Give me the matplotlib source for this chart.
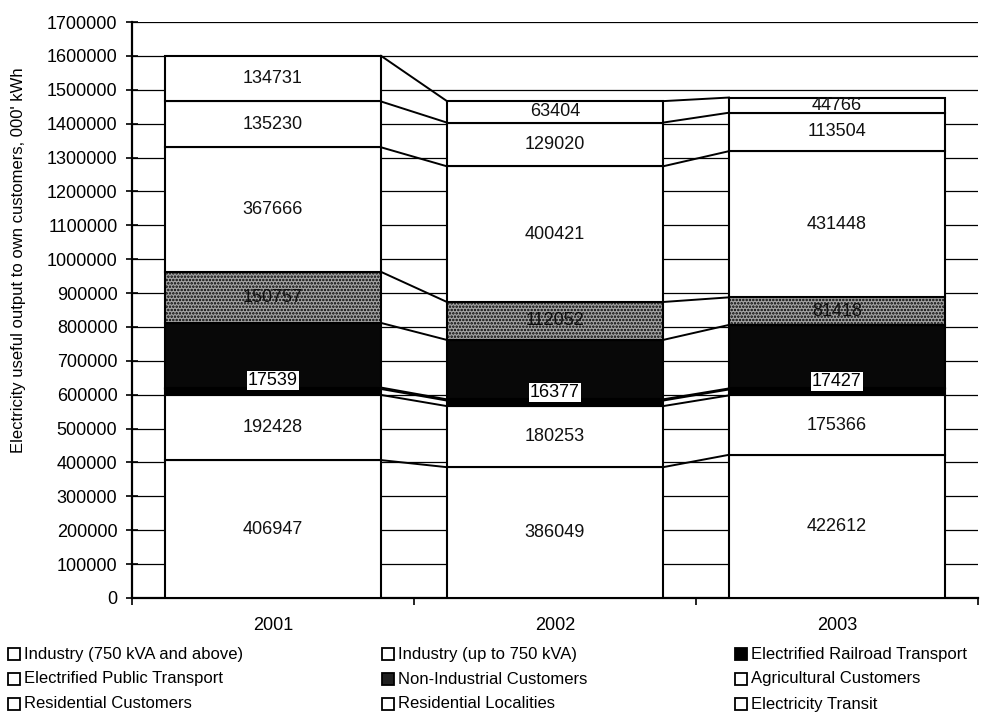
import numpy as np
import matplotlib
matplotlib.use('Agg')
import matplotlib.pyplot as plt
from matplotlib.patches import Rectangle

plt.rcParams['font.family'] = ['Liberation Sans', 'DejaVu Sans']
plt.rcParams['hatch.linewidth'] = 1.2

years = ['2001', '2002', '2003']

series_names = ['Industry (750 kVA and above)', 'Industry (up to 750 kVA)',
                'Electrified Railroad Transport', 'Electrified Public Transport',
                'Non-Industrial Customers', 'Agricultural Customers',
                'Residential Customers', 'Residential Localities', 'Electricity Transit']

# 000' kWh, stacked from the bottom up
industry_750 = [406947, 386049, 422612]
industry_small = [192428, 180253, 175366]
railroad = [17539, 16377, 17427]
public_transport = [4200, 3600, 3100]
non_industrial = [190700, 175300, 187400]
agricultural = [150757, 112052, 81418]
residential_customers = [367666, 400421, 431448]
residential_localities = [135230, 129020, 113504]
transit = [134731, 63404, 44766]

series = [industry_750, industry_small, railroad, public_transport, non_industrial,
          agricultural, residential_customers, residential_localities, transit]

# face colour, hatch, whether the segment carries a value label
styles = [('white', None, True), ('white', None, True), ('black', None, True),
          ('white', None, False), ('#080808', None, False), ('#a4a4a4', '.....', True),
          ('white', None, True), ('white', None, True), ('white', None, True)]
legend_faces = ['white', 'white', 'black', 'white', '#202020', 'white', 'white', 'white', 'white']

fig = plt.figure(figsize=(9.82, 7.19), dpi=100)
ax = fig.add_axes([0.1344, 0.1683, 0.8615, 0.8011])

x = np.arange(len(years))
width = 0.766
bottoms = np.zeros(len(years))
tops = []
for vals, (fc, hatch, labelled) in zip(series, styles):
    vals = np.array(vals, dtype=float)
    ax.bar(x, vals, width, bottom=bottoms, color=fc, hatch=hatch,
           edgecolor='black', linewidth=1.5, zorder=3)
    mids = bottoms + vals / 2
    if labelled:
        for xi, v, m in zip(x, vals, mids):
            if fc == 'black':
                # thin segment: label sits just above it on a white box
                ax.annotate(f'{int(v)}', (xi, m), xytext=(0, 8), textcoords='offset points',
                            ha='center', va='center', fontsize=13, zorder=5,
                            bbox=dict(boxstyle='square,pad=0.05', fc='white', ec='none'))
            else:
                ax.text(xi, m, f'{int(v)}', ha='center', va='center', fontsize=13,
                        color='#111111', zorder=5)
    bottoms = bottoms + vals
    tops.append(bottoms.copy())

# series lines between neighbouring bars
for t in tops:
    for i in range(len(years) - 1):
        ax.plot([x[i] + width / 2, x[i + 1] - width / 2], [t[i], t[i + 1]],
                color='black', lw=1.4, zorder=2)

ax.set_ylim(0, 1700000)
ax.set_xlim(-0.5, 2.435)
ax.set_yticks(np.arange(0, 1700001, 100000))
ax.yaxis.set_major_formatter(lambda v, p: f'{int(v)}')
ax.tick_params(axis='y', direction='inout', length=9, width=1.2, labelsize=13, pad=6)
ax.set_xticks(x, years)
ax.set_xticks([-0.5, 0.5, 1.5, 2.5], minor=True)
ax.tick_params(axis='x', which='major', length=0, labelsize=13, pad=14)
ax.tick_params(axis='x', which='minor', length=5, width=1.2, direction='out')
ax.yaxis.grid(True, color='black', lw=0.9)
ax.set_axisbelow(True)

for s in ['top', 'right']:
    ax.spines[s].set_visible(False)
for s in ['left', 'bottom']:
    ax.spines[s].set_linewidth(1.6)

ax.set_ylabel("Electricity useful output to own customers, 000' kWh", fontsize=12)
ax.yaxis.set_label_coords(-0.125, 0.587)

# legend in three rows, filled row by row
col_x = [8, 382, 735]
row_y = [654, 679, 704]
W, H = 982, 719
for i, name in enumerate(series_names):
    px, py = col_x[i % 3], row_y[i // 3]
    fig.patches.append(Rectangle((px / W, 1 - (py + 6) / H), 12 / W, 12 / H,
                                 transform=fig.transFigure, facecolor=legend_faces[i],
                                 edgecolor='black', linewidth=1.3))
    fig.text((px + 16) / W, 1 - py / H, name, fontsize=12, va='center', ha='left')

fig.savefig('out.png', dpi=100)
